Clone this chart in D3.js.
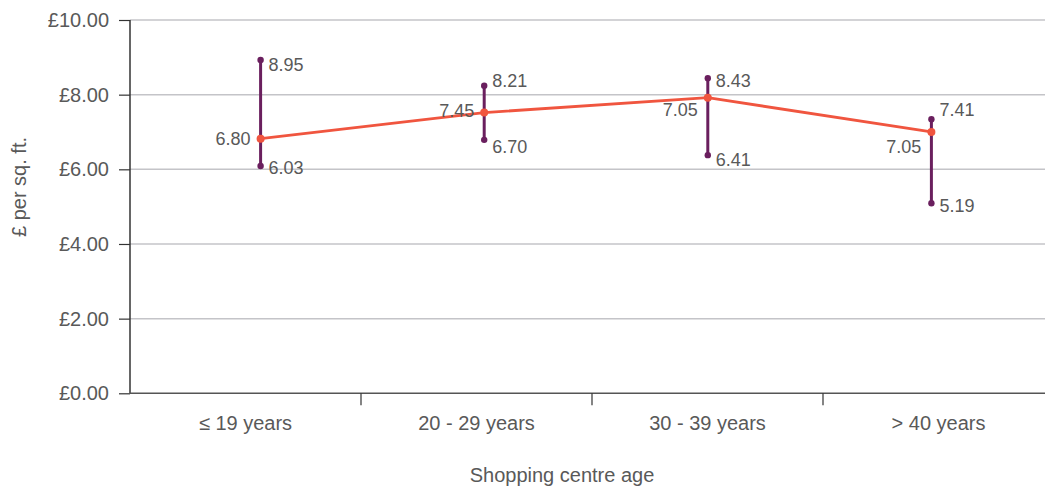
<!DOCTYPE html>
<html>
<head>
<meta charset="utf-8">
<script src="https://cdn.jsdelivr.net/npm/d3@7"></script>
<style>
  html, body { margin: 0; padding: 0; background: #fff; }
  svg { display: block; font-family: "Liberation Sans", Arial, Helvetica, sans-serif; }
</style>
</head>
<body>
<svg id="chart" width="1045" height="486"></svg>
<script>
// ---- data ----
const categories = ["≤ 19 years", "20 - 29 years", "30 - 39 years", "> 40 years"];
const midValues  = [6.82, 7.52, 7.92, 7.00];
const highValues = [8.93, 8.24, 8.44, 7.34];
const lowValues  = [6.09, 6.79, 6.38, 5.09];
const midLabels  = ["6.80", "7.45", "7.05", "7.05"];
const highLabels = ["8.95", "8.21", "8.43", "7.41"];
const lowLabels  = ["6.03", "6.70", "6.41", "5.19"];
const yTicks = [0, 2, 4, 6, 8, 10];
const yTickLabels = ["£0.00", "£2.00", "£4.00", "£6.00", "£8.00", "£10.00"];
const xTitle = "Shopping centre age";
const yTitle = "£ per sq. ft.";

// ---- layout (label nudges, px) ----
const highDy = [5, -5, 2, -10];
const lowDy  = [2, 7, 5, 2];
const midDy  = [0, -2, 12, 15];

(function () {
const W = 1045, H = 486;
const mLeft = 130, mTop = 20, mBottom = 393.3;
const svg = d3.select("#chart");

const y = d3.scaleLinear().domain([0, 10]).range([mBottom, mTop]);
const xBand = d3.scaleBand().domain(categories).range([mLeft, mLeft + 4 * 231]);
const xPt = d3.scalePoint().domain(categories).range([260.6, 931.4]);

const textColor = "#595959";
const purple = "#6a1f5e";
const red = "#f0553f";

// gridlines
svg.append("g").selectAll("line").data(yTicks.filter(d => d > 0)).join("line")
  .attr("x1", mLeft).attr("x2", W)
  .attr("y1", d => y(d)).attr("y2", d => y(d))
  .attr("stroke", "#c4c4c8").attr("stroke-width", 1.5);

// y axis
const yAxis = d3.axisLeft(y).tickValues(yTicks).tickSize(11).tickPadding(10)
  .tickFormat((d, i) => yTickLabels[i]);
const gy = svg.append("g").attr("transform", `translate(${mLeft},0)`).call(yAxis);
gy.select(".domain").attr("stroke", "#333").attr("stroke-width", 1.5).attr("d", `M0,${mTop}V${mBottom}`);
gy.selectAll(".tick line").attr("stroke", "#333").attr("stroke-width", 1.2);
gy.selectAll(".tick text").attr("fill", textColor).attr("font-size", 20)
  .attr("font-family", "Liberation Sans, Arial, sans-serif");

// x axis
const xAxis = d3.axisBottom(xBand).tickSize(0).tickPadding(0);
const gx = svg.append("g").attr("transform", `translate(0,${mBottom})`).call(xAxis);
gx.select(".domain").attr("stroke", "#555").attr("stroke-width", 1.5).attr("d", `M${mLeft},0H${W}`);
gx.selectAll(".tick text").attr("fill", textColor).attr("font-size", 20)
  .attr("font-family", "Liberation Sans, Arial, sans-serif")
  .attr("dy", null).attr("y", 37);
// separator ticks between bands
svg.append("g").selectAll("line").data(categories.slice(1)).join("line")
  .attr("x1", d => xBand(d)).attr("x2", d => xBand(d))
  .attr("y1", mBottom).attr("y2", mBottom + 12)
  .attr("stroke", "#333").attr("stroke-width", 1.2);

// axis titles
svg.append("text").attr("x", 562).attr("y", 482).attr("text-anchor", "middle")
  .attr("fill", textColor).attr("font-size", 20).text(xTitle);
svg.append("text").attr("transform", `translate(26,187) rotate(-90)`)
  .attr("text-anchor", "middle").attr("fill", textColor).attr("font-size", 20).text(yTitle);

// range bars
const rows = categories.map((c, i) => ({c, i, lo: lowValues[i], hi: highValues[i], mid: midValues[i]}));
svg.append("g").selectAll("line").data(rows).join("line")
  .attr("x1", d => xPt(d.c)).attr("x2", d => xPt(d.c))
  .attr("y1", d => y(d.lo)).attr("y2", d => y(d.hi))
  .attr("stroke", purple).attr("stroke-width", 3);
svg.append("g").selectAll("circle").data(rows.flatMap(d => [{c: d.c, v: d.lo}, {c: d.c, v: d.hi}])).join("circle")
  .attr("cx", d => xPt(d.c)).attr("cy", d => y(d.v)).attr("r", 3.2).attr("fill", purple);

// mid line
const line = d3.line().x(d => xPt(d.c)).y(d => y(d.mid));
svg.append("path").datum(rows).attr("d", line)
  .attr("fill", "none").attr("stroke", red).attr("stroke-width", 2.8);
svg.append("g").selectAll("circle").data(rows).join("circle")
  .attr("cx", d => xPt(d.c)).attr("cy", d => y(d.mid)).attr("r", 4).attr("fill", red);

// labels
const lab = svg.append("g").attr("fill", textColor).attr("font-size", 18);
lab.selectAll("text.hi").data(rows).join("text").attr("class", "hi")
  .attr("x", d => xPt(d.c) + 8).attr("y", d => y(d.hi) + highDy[d.i]).attr("dy", "0.35em")
  .text(d => highLabels[d.i]);
lab.selectAll("text.lo").data(rows).join("text").attr("class", "lo")
  .attr("x", d => xPt(d.c) + 8).attr("y", d => y(d.lo) + lowDy[d.i]).attr("dy", "0.35em")
  .text(d => lowLabels[d.i]);
lab.selectAll("text.mid").data(rows).join("text").attr("class", "mid")
  .attr("x", d => xPt(d.c) - 10).attr("y", d => y(d.mid) + midDy[d.i]).attr("dy", "0.35em")
  .attr("text-anchor", "end")
  .text(d => midLabels[d.i]);
})();
</script>
</body>
</html>
